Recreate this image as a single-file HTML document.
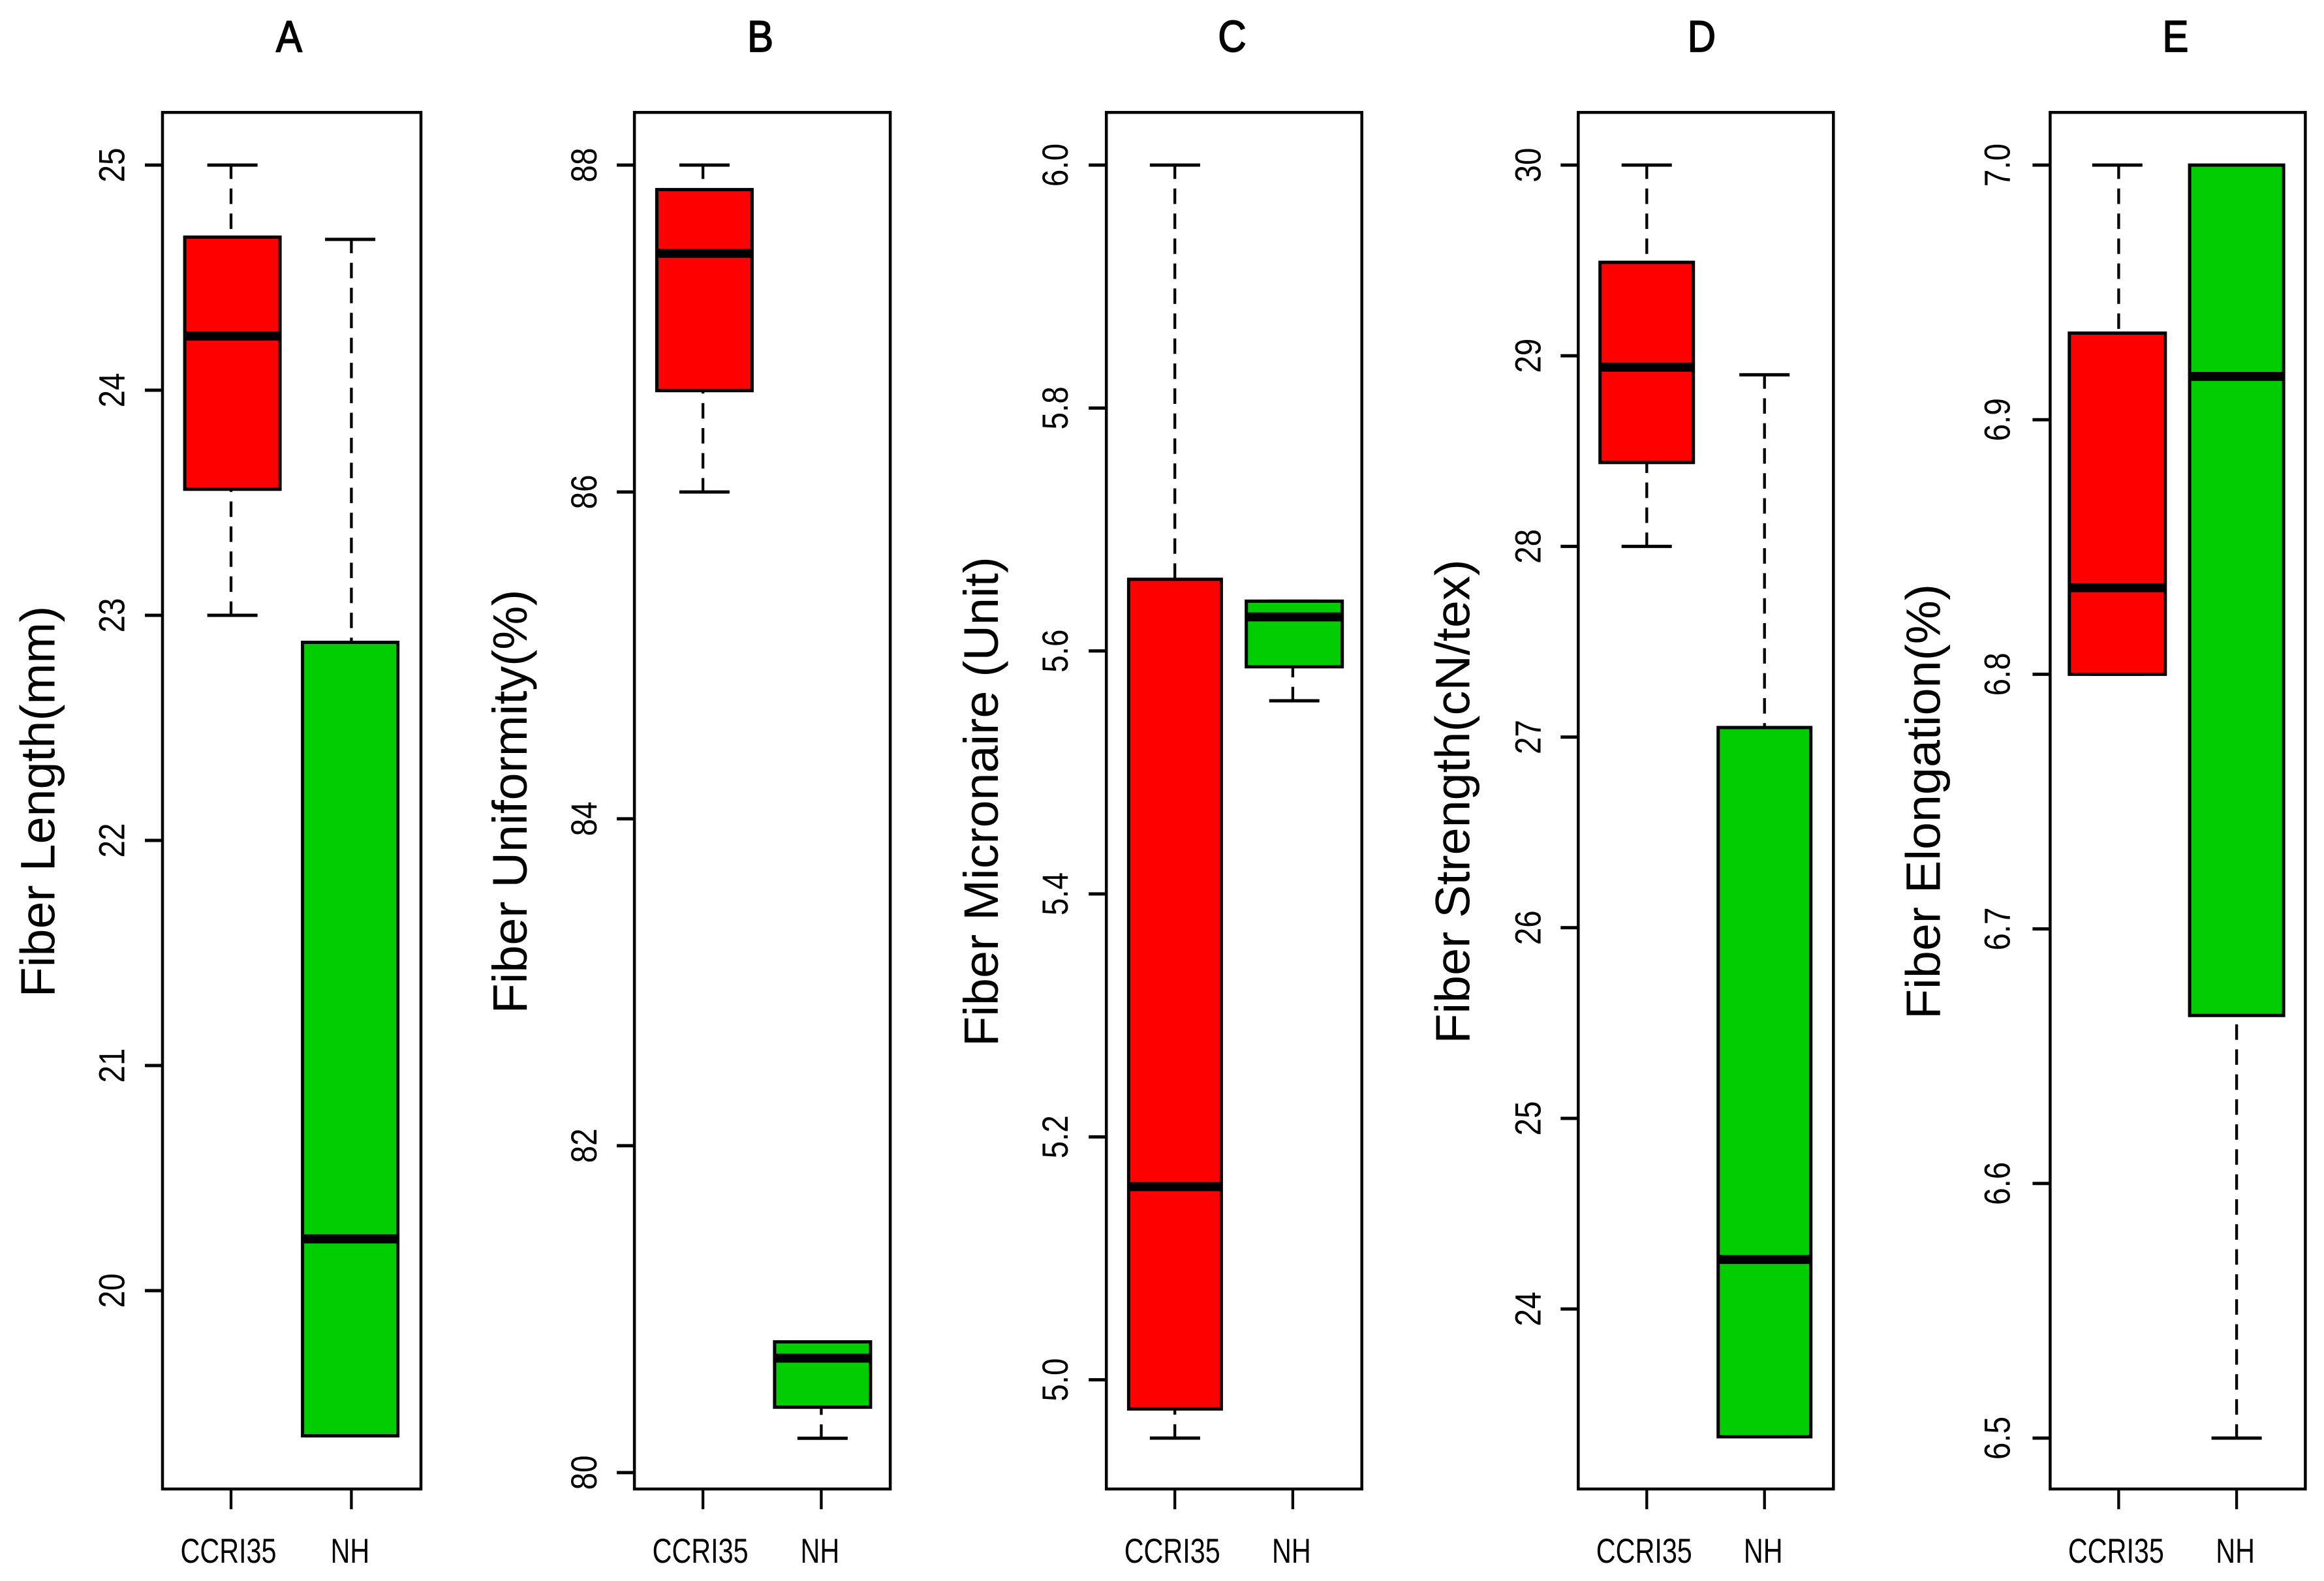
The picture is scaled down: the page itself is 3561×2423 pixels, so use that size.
<!DOCTYPE html>
<html lang="en">
<head>
<meta charset="utf-8">
<title>Fiber quality boxplots</title>
<style>
  html, body { margin: 0; padding: 0; background: #fff; }
  svg { display: block; font-family: "Liberation Sans", sans-serif; }
  text { fill: #000; }
</style>
</head>
<body>
<svg id="chart" xmlns="http://www.w3.org/2000/svg" width="3561" height="2423" viewBox="0 0 3561 2423"></svg>
<script>
// ---- Data (five-number summaries: min, q1, median, q3, max) ----
const categories = ["CCRI35", "NH"];
const panelTitles = ["A", "B", "C", "D", "E"];
const yAxisTitles = ["Fiber Length(mm)", "Fiber Uniformity(%)", "Fiber Micronaire (Unit)", "Fiber Strength(cN/tex)", "Fiber Elongation(%)"];

const lengthCCRI35 = [23, 23.56, 24.24, 24.68, 25];
const lengthNH = [19.355, 19.355, 20.23, 22.88, 24.67];
const uniformityCCRI35 = [86, 86.62, 87.46, 87.85, 88];
const uniformityNH = [80.21, 80.40, 80.70, 80.80, 80.80];
const micronaireCCRI35 = [4.952, 4.976, 5.159, 5.659, 6.0];
const micronaireNH = [5.559, 5.587, 5.628, 5.641, 5.641];
const strengthCCRI35 = [28, 28.44, 28.94, 29.49, 30];
const strengthNH = [23.33, 23.33, 24.26, 27.05, 28.90];
const elongationCCRI35 = [6.8, 6.8, 6.834, 6.934, 7.0];
const elongationNH = [6.5, 6.666, 6.917, 7.0, 7.0];

const lengthTicks = [20, 21, 22, 23, 24, 25];
const uniformityTicks = [80, 82, 84, 86, 88];
const micronaireTicks = [5.0, 5.2, 5.4, 5.6, 5.8, 6.0];
const strengthTicks = [24, 25, 26, 27, 28, 29, 30];
const elongationTicks = [6.5, 6.6, 6.7, 6.8, 6.9, 7.0];

const lengthTickLabels = ["20", "21", "22", "23", "24", "25"];
const uniformityTickLabels = ["80", "82", "84", "86", "88"];
const micronaireTickLabels = ["5.0", "5.2", "5.4", "5.6", "5.8", "6.0"];
const strengthTickLabels = ["24", "25", "26", "27", "28", "29", "30"];
const elongationTickLabels = ["6.5", "6.6", "6.7", "6.8", "6.9", "7.0"];

const yDomainLow = [19.345, 80.211, 4.952, 23.323, 6.5];
const yDomainHigh = [25, 88, 6.0, 30, 7.0];

const panelSeries = [
  [lengthCCRI35, lengthNH],
  [uniformityCCRI35, uniformityNH],
  [micronaireCCRI35, micronaireNH],
  [strengthCCRI35, strengthNH],
  [elongationCCRI35, elongationNH]
];
const panelTicks = [lengthTicks, uniformityTicks, micronaireTicks, strengthTicks, elongationTicks];
const panelTickLabels = [lengthTickLabels, uniformityTickLabels, micronaireTickLabels, strengthTickLabels, elongationTickLabels];

// ---- Layout ----
const NS = "http://www.w3.org/2000/svg";
const svg = document.getElementById("chart");
const FRAME_TOP = 172.3;
const FRAME_BOTTOM = 2282;
const Y_RANGE_TOP = 253;
const Y_RANGE_BOTTOM = 2204;
const frameWidths = [396, 392, 391.5, 391, 391];
const categorySteps = [184.4, 181.3, 180.7, 180.4, 180.7];
const boxNudges = [[2.1, -1.8], [2.3, 2], [0.2, 2.3], [-0.1, 0], [-2.1, 0]];
const boxWidths = [[146, 146], [146, 147], [142, 147], [143, 142], [147, 144]];
const titleNudges = [-4, -3, -3, -6.5, -3.5];
const yTitleOffsets = [165.5, 165, 166, 167, 169];
const tickLabelOffsets = [58.5, 58, 59, 58, 62];
const xLabelNudges = [-4, -2];
const fillColors = ["#ff0000", "#00cd00"];

function frameLeft(p) { return 249 + 723.1 * p; }
function xPos(p, c) { return frameLeft(p) + 105 + categorySteps[p] * c; }
function yPos(p, v) {
  const t = (yDomainHigh[p] - v) / (yDomainHigh[p] - yDomainLow[p]);
  return Y_RANGE_TOP + t * (Y_RANGE_BOTTOM - Y_RANGE_TOP);
}

function make(parent, tag, attrs) {
  const node = document.createElementNS(NS, tag);
  for (const k in attrs) node.setAttribute(k, attrs[k]);
  parent.appendChild(node);
  return node;
}
function hLine(parent, x1, x2, y, w) {
  return make(parent, "line", { x1: x1, x2: x2, y1: y, y2: y, stroke: "#000", "stroke-width": w });
}
function vLine(parent, x, y1, y2, w) {
  return make(parent, "line", { x1: x, x2: x, y1: y1, y2: y2, stroke: "#000", "stroke-width": w });
}

panelTitles.forEach(function (title, p) {
  const left = frameLeft(p);
  const width = frameWidths[p];
  let el;

  const g = make(svg, "g", {});
  
  

  // panel title
  el = make(g, "text", {
    transform: "translate(" + (left + width / 2 + titleNudges[p]) + ",79) scale(0.88,1)",
    "text-anchor": "middle",
    "font-size": 68,
    stroke: "#000",
    "stroke-width": 1.8
  });
  el.textContent = title;
  
  

  // y axis title
  el = make(g, "text", {
    transform: "translate(" + (left - yTitleOffsets[p]) + ",1228.5) rotate(-90) scale(1.02,1)",
    "text-anchor": "middle",
    "font-size": 74
  });
  el.textContent = yAxisTitles[p];
  
  

  // y ticks and labels
  panelTicks[p].forEach(function (v, i) {
    const y = yPos(p, v);
    el = hLine(g, left - 27, left, y, 5);
    
    

    el = make(g, "text", {
      transform: "translate(" + (left - tickLabelOffsets[p]) + "," + y + ") rotate(-90) scale(0.85,1)",
      "text-anchor": "middle",
      "font-size": 56
    });
    el.textContent = panelTickLabels[p][i];
    
    
  });

  // boxes
  categories.forEach(function (cat, c) {
    const s = panelSeries[p][c];
    const x = xPos(p, c);
    const cx = x + boxNudges[p][c];
    const halfBox = boxWidths[p][c] / 2;
    const yMin = yPos(p, s[0]);
    const yQ1 = yPos(p, s[1]);
    const yMed = yPos(p, s[2]);
    const yQ3 = yPos(p, s[3]);
    const yMax = yPos(p, s[4]);

    el = vLine(g, x, yMax, yQ3, 4.3);
    el.setAttribute('stroke-dasharray', '23.7 14.6');
    el.setAttribute('stroke-dashoffset', '2.4');
    
    

    el = vLine(g, x, yMin, yQ1, 4.3);
    el.setAttribute('stroke-dasharray', '23.7 14.6');
    el.setAttribute('stroke-dashoffset', '2.4');
    
    

    el = hLine(g, cx - 38.5, cx + 38.5, yMax, 5);
    
    

    el = hLine(g, cx - 38.5, cx + 38.5, yMin, 5);
    
    

    el = make(g, "rect", {
      x: cx - halfBox,
      y: yQ3,
      width: halfBox * 2,
      height: yQ1 - yQ3,
      fill: fillColors[c],
      stroke: "#000",
      "stroke-width": 5
    });
    
    

    el = hLine(g, cx - halfBox, cx + halfBox, yMed, 13.8);
    
    

    // x tick and label
    el = vLine(g, x, FRAME_BOTTOM, 2313, 4.3);
    
    

    el = make(g, "text", {
      transform: "translate(" + (x + xLabelNudges[c]) + ",2395) scale(0.78,1)",
      "text-anchor": "middle",
      "font-size": 53
    });
    el.textContent = cat;
    
    
  });

  // frame
  el = make(g, "rect", {
    x: left,
    y: FRAME_TOP,
    width: width,
    height: FRAME_BOTTOM - FRAME_TOP,
    fill: "none",
    stroke: "#000",
    "stroke-width": 4.5
  });
  
  
});
</script>
</body>
</html>
